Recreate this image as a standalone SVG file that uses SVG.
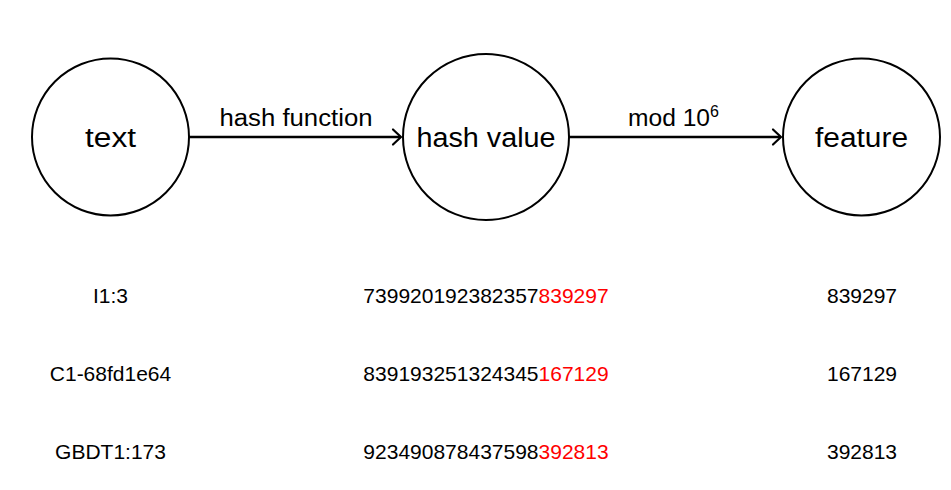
<svg xmlns="http://www.w3.org/2000/svg" width="951" height="490" viewBox="0 0 951 490">
  <style>
    .node circle { fill: #ffffff; stroke: #000000; stroke-width: 2; }
    .node text { font-family: "Liberation Sans", Arial, sans-serif; font-size: 27px; fill: #000; text-anchor: middle; }
    .edge line { stroke: #000; stroke-width: 2.6; }
    .edge path { fill: none; stroke: #000; stroke-width: 2.2; stroke-linecap: round; stroke-linejoin: round; }
    .elabel { font-family: "Liberation Sans", Arial, sans-serif; font-size: 23px; fill: #000; text-anchor: middle; }
    .sup { font-family: "Liberation Sans", Arial, sans-serif; font-size: 16px; fill: #000; }
    .cell { font-family: "Liberation Sans", Arial, sans-serif; font-size: 21px; fill: #000; text-anchor: middle; }
    .hl { fill: #ff0000; }
  </style>

  <!-- nodes -->
  <g id="node-text" class="node">
    <circle cx="110.5" cy="137" r="78.5"/>
    <text x="110.5" y="147" textLength="51" lengthAdjust="spacingAndGlyphs">text</text>
  </g>
  <g id="node-hash-value" class="node">
    <circle cx="486" cy="137" r="83"/>
    <text x="486" y="147" textLength="139" lengthAdjust="spacingAndGlyphs">hash value</text>
  </g>
  <g id="node-feature" class="node">
    <circle cx="861.5" cy="137" r="78.5"/>
    <text x="861.5" y="147" textLength="93" lengthAdjust="spacingAndGlyphs">feature</text>
  </g>

  <!-- connectors -->
  <g id="connectors">
    <g class="edge" id="edge-hash">
      <line x1="189" y1="137" x2="400" y2="137"/>
      <path d="M393,129.5 L401,137 L393,144.5"/>
      <text class="elabel" x="296" y="126" textLength="153" lengthAdjust="spacingAndGlyphs">hash function</text>
    </g>
    <g class="edge" id="edge-mod">
      <line x1="569" y1="137" x2="780" y2="137"/>
      <path d="M773,129.5 L781,137 L773,144.5"/>
      <text class="elabel" x="628" y="126" style="text-anchor:start" textLength="82" lengthAdjust="spacingAndGlyphs">mod 10</text>
      <text class="sup" x="710" y="117">6</text>
    </g>
  </g>

  <!-- example rows -->
  <g id="examples">
    <text class="cell" x="110.5" y="303">I1:3</text>
    <text class="cell" x="486" y="303">739920192382357<tspan class="hl">839297</tspan></text>
    <text class="cell" x="862" y="303">839297</text>

    <text class="cell" x="110.5" y="381">C1-68fd1e64</text>
    <text class="cell" x="486" y="381">839193251324345<tspan class="hl">167129</tspan></text>
    <text class="cell" x="862" y="381">167129</text>

    <text class="cell" x="110.5" y="459">GBDT1:173</text>
    <text class="cell" x="486" y="459">923490878437598<tspan class="hl">392813</tspan></text>
    <text class="cell" x="862" y="459">392813</text>
  </g>
</svg>
